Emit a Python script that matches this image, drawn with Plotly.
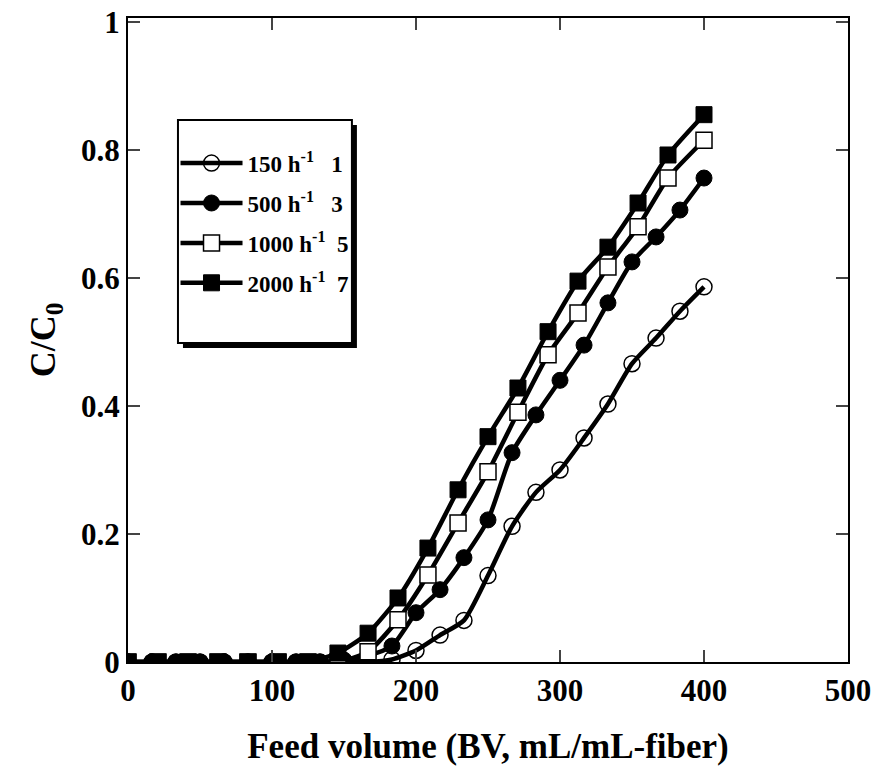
import plotly.graph_objects as go

# Feed volume (BV) sampling for the circle series (150 and 500 h^-1)
bv_circ = [0, 16.7, 33.3, 50, 66.7, 83.3, 100, 116.7, 133.3, 150, 166.7, 183.3, 200,
           216.7, 233.3, 250, 266.7, 283.3, 300, 316.7, 333.3, 350, 366.7, 383.3, 400]
# Feed volume (BV) sampling for the square series (1000 and 2000 h^-1)
bv_sq = [0, 20.8, 41.7, 62.5, 83.3, 104.2, 125, 145.8, 166.7, 187.5, 208.3, 229.2, 250,
         270.8, 291.7, 312.5, 333.3, 354.2, 375, 400]

# Breakthrough ratio C/C0
c_150 = [0, 0, 0, 0, 0, 0, 0, 0, 0, 0, 0.0, 0.004, 0.018,
         0.042, 0.065, 0.135, 0.212, 0.265, 0.300, 0.350, 0.403, 0.466, 0.506, 0.548, 0.586]
c_500 = [0, 0, 0, 0, 0, 0, 0, 0, 0, 0.003, 0.010, 0.025, 0.077,
         0.113, 0.163, 0.222, 0.327, 0.386, 0.440, 0.495, 0.561, 0.625, 0.664, 0.706, 0.756]
c_1000 = [0, 0, 0, 0, 0, 0, 0, 0.0, 0.016, 0.066, 0.136, 0.217, 0.297,
          0.390, 0.480, 0.545, 0.617, 0.680, 0.756, 0.815]
c_2000 = [0, 0, 0, 0, 0, 0, 0, 0.014, 0.045, 0.100, 0.178, 0.269, 0.352,
          0.428, 0.516, 0.595, 0.648, 0.717, 0.792, 0.855]

legend_names = ["150 h<sup>-1</sup>   1", "500 h<sup>-1</sup>   3",
                "1000 h<sup>-1</sup>  5", "2000 h<sup>-1</sup>  7"]

x_ticks = [0, 100, 200, 300, 400, 500]
y_ticks = [0, 0.2, 0.4, 0.6, 0.8, 1]
y_tick_text = ["0", "0.2", "0.4", "0.6", "0.8", "1"]

FONT = "Liberation Serif"

series = [
    (bv_circ, c_150, legend_names[0], dict(symbol="circle-open", size=16, color="black",
                                           line=dict(color="black", width=1.5))),
    (bv_circ, c_500, legend_names[1], dict(symbol="circle", size=16, color="black",
                                           line=dict(color="black", width=1))),
    (bv_sq, c_1000, legend_names[2], dict(symbol="square", size=16, color="white",
                                          line=dict(color="black", width=1.5))),
    (bv_sq, c_2000, legend_names[3], dict(symbol="square", size=16, color="black",
                                          line=dict(color="black", width=1))),
]

fig = go.Figure()
for i, (x, y, name, marker) in enumerate(series):
    fig.add_trace(go.Scatter(
        x=x, y=y, name=name, mode="lines+markers",
        line=dict(color="black", width=4.5, shape="spline", smoothing=0.6),
        marker=marker, legendgroup=f"g{i}",
    ))

# Legend frame with a drop shadow (drawn as shapes behind the transparent legend)
box = dict(x0=0.0694, x1=0.311, y0=0.4953, y1=0.8416)
sx, sy = 5 / 720, 5 / 644
fig.add_shape(type="rect", xref="paper", yref="paper",
              x0=box["x0"] + sx, x1=box["x1"] + sx, y0=box["y0"] - sy, y1=box["y1"] - sy,
              fillcolor="black", line=dict(color="black", width=0), layer="above")
fig.add_shape(type="rect", xref="paper", yref="paper", **box,
              fillcolor="white", line=dict(color="black", width=2), layer="above")

fig.update_layout(
    width=875, height=778,
    margin=dict(l=128, r=27, t=18, b=116),
    paper_bgcolor="white", plot_bgcolor="white",
    font=dict(family=FONT, color="black"),
    showlegend=True,
    legend=dict(
        x=0.066, y=0.808, xanchor="left", yanchor="top",
        bgcolor="rgba(0,0,0,0)", borderwidth=0,
        font=dict(family=FONT, size=23, color="black", weight="bold"),
        tracegroupgap=7, itemwidth=62,
    ),
    xaxis=dict(
        range=[0, 500], tickvals=x_ticks, ticks="inside", ticklen=12, tickwidth=2,
        showline=True, linecolor="black", linewidth=2, mirror="ticks",
        showgrid=False, zeroline=False, automargin=False,
        tickfont=dict(family=FONT, size=31, weight="bold"),
        title=dict(text="Feed volume (BV, mL/mL-fiber)",
                   font=dict(family=FONT, size=35, weight="bold"), standoff=26),
    ),
    yaxis=dict(
        range=[0, 1.006], tickvals=y_ticks, ticktext=y_tick_text,
        ticks="inside", ticklen=12, tickwidth=2,
        showline=True, linecolor="black", linewidth=2, mirror="ticks",
        showgrid=False, zeroline=False, automargin=False,
        tickfont=dict(family=FONT, size=31, weight="bold"),
        title=dict(text="C/C<sub>0</sub>",
                   font=dict(family=FONT, size=36, weight="bold"), standoff=14),
    ),
)

fig.write_html("out.html")
